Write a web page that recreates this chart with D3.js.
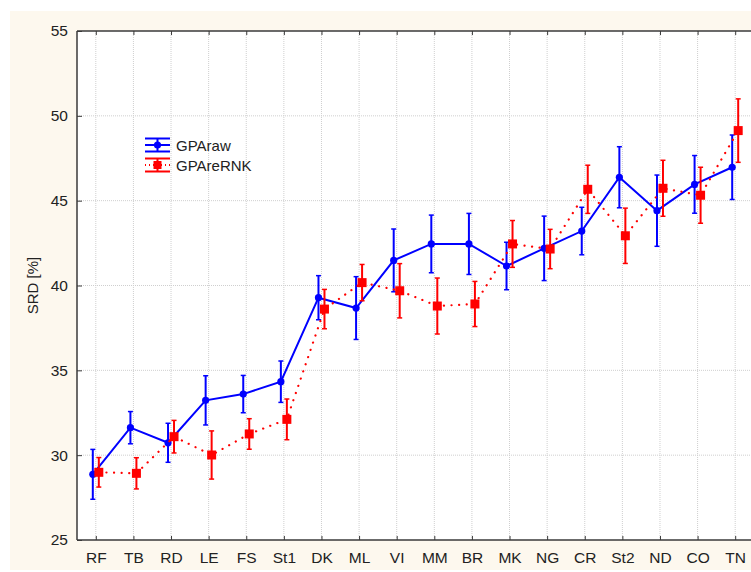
<!DOCTYPE html>
<html>
<head>
<meta charset="utf-8">
<script src="https://cdn.jsdelivr.net/npm/d3@7"></script>
<style>
  html, body { margin: 0; padding: 0; background: #ffffff; }
  svg { display: block; font-family: "Liberation Sans", Arial, sans-serif; }
</style>
</head>
<body>
<svg id="chart" width="751" height="572"></svg>
<script>
// Categories along the x axis
const categories = ["RF","TB","RD","LE","FS","St1","DK","ML","VI","MM","BR","MK","NG","CR","St2","ND","CO","TN"];

// GPAraw: mean SRD [%] and half-width of the error bar
const rawMean = [28.87, 31.62, 30.73, 33.23, 33.60, 34.33, 39.28, 38.67, 41.48, 42.45, 42.45, 41.15, 42.19, 43.21, 46.38, 44.41, 45.96, 46.97];
const rawErr  = [1.47, 0.95, 1.15, 1.45, 1.10, 1.22, 1.30, 1.85, 1.85, 1.70, 1.80, 1.40, 1.90, 1.40, 1.80, 2.10, 1.70, 1.90];

// GPAreRNK: mean SRD [%] and half-width of the error bar
const rnkMean = [28.99, 28.93, 31.09, 30.01, 31.25, 32.11, 38.61, 40.17, 39.69, 38.79, 38.91, 42.45, 42.15, 45.67, 42.93, 45.73, 45.32, 49.13];
const rnkErr  = [0.87, 0.92, 0.96, 1.42, 0.90, 1.20, 1.16, 1.07, 1.60, 1.65, 1.33, 1.38, 1.16, 1.42, 1.63, 1.65, 1.65, 1.87];

const yTicks = [25, 30, 35, 40, 45, 50, 55];
const seriesNames = ["GPAraw", "GPAreRNK"];

const svg = d3.select("#chart");

// Page panel
svg.append("rect").attr("x", 10).attr("y", 11).attr("width", 741).attr("height", 559).attr("fill", "#fdf8ee");

const plot = { left: 77, top: 31, right: 754, bottom: 540 };
svg.append("rect").attr("x", plot.left).attr("y", plot.top)
  .attr("width", plot.right - plot.left).attr("height", plot.bottom - plot.top).attr("fill", "#ffffff");

const x = d3.scalePoint().domain(categories).range([plot.left, plot.right]).padding(0.5);
const y = d3.scaleLinear().domain([25, 55]).range([plot.bottom, plot.top]);

// Grid
const grid = svg.append("g");
grid.selectAll("line.gx").data(categories).join("line")
  .attr("x1", d => x(d)).attr("x2", d => x(d)).attr("y1", plot.top).attr("y2", plot.bottom)
  .attr("stroke", "#cfcfcf").attr("stroke-width", 1).attr("stroke-dasharray", "1,1");
grid.selectAll("line.gy").data(yTicks.slice(1, -1)).join("line")
  .attr("x1", plot.left).attr("x2", plot.right).attr("y1", d => y(d)).attr("y2", d => y(d))
  .attr("stroke", "#cfcfcf").attr("stroke-width", 1).attr("stroke-dasharray", "1,1");

// Axes (ticks point inward)
const axisColor = "#3a3a3a";
const yAxis = svg.append("g").attr("transform", `translate(${plot.left},0)`)
  .call(d3.axisLeft(y).tickValues(yTicks).tickSize(-5).tickPadding(9));
const xAxis = svg.append("g").attr("transform", `translate(0,${plot.bottom})`)
  .call(d3.axisBottom(x).tickSize(-4).tickPadding(12));
const xTop = svg.append("g").attr("transform", `translate(0,${plot.top})`)
  .call(d3.axisBottom(x).tickSize(4).tickFormat(""));
[yAxis, xAxis, xTop].forEach(g => {
  g.select(".domain").attr("stroke", axisColor).attr("stroke-width", 1.5);
  g.selectAll(".tick line").attr("stroke", axisColor);
  g.selectAll("text").attr("fill", "#222").attr("font-size", 15.5)
    .attr("font-family", '"Liberation Sans", Arial, sans-serif');
});
xTop.select(".domain").attr("d", `M${plot.left},0H${plot.right}`);
xAxis.select(".domain").attr("d", `M${plot.left},0H${plot.right}`);
yAxis.select(".domain").attr("d", `M0,${plot.bottom}V${plot.top}`);

// Y axis title
svg.append("text").attr("transform", `translate(38,${(plot.top + plot.bottom) / 2}) rotate(-90)`)
  .attr("text-anchor", "middle").attr("font-size", 15).attr("fill", "#222").text("SRD [%]");

function drawSeries(means, errs, color, dx, dashed, marker) {
  const g = svg.append("g");
  const pts = categories.map((c, i) => ({ c, m: means[i], e: errs[i] }));
  const line = d3.line().x(d => x(d.c) + dx).y(d => y(d.m));
  g.append("path").datum(pts).attr("d", line).attr("fill", "none")
    .attr("stroke", color).attr("stroke-width", dashed ? 2.2 : 2)
    .attr("stroke-dasharray", dashed ? "0.1,7.5" : null)
    .attr("stroke-linecap", dashed ? "round" : "butt");
  const eb = g.selectAll("g.eb").data(pts).join("g");
  eb.append("line").attr("x1", d => x(d.c) + dx).attr("x2", d => x(d.c) + dx)
    .attr("y1", d => y(d.m - d.e)).attr("y2", d => y(d.m + d.e))
    .attr("stroke", color).attr("stroke-width", 2);
  [1, -1].forEach(s => {
    eb.append("line").attr("x1", d => x(d.c) + dx - 2.5).attr("x2", d => x(d.c) + dx + 2.5)
      .attr("y1", d => y(d.m + s * d.e)).attr("y2", d => y(d.m + s * d.e))
      .attr("stroke", color).attr("stroke-width", 1.5);
  });
  if (marker === "circle") {
    g.selectAll("circle").data(pts).join("circle")
      .attr("cx", d => x(d.c) + dx).attr("cy", d => y(d.m)).attr("r", 3.6).attr("fill", color);
  } else {
    g.selectAll("rect.mk").data(pts).join("rect")
      .attr("x", d => x(d.c) + dx - 4.5).attr("y", d => y(d.m) - 4.5)
      .attr("width", 9).attr("height", 9).attr("fill", color);
  }
}

drawSeries(rawMean, rawErr, "#0000ff", -3, false, "circle");
drawSeries(rnkMean, rnkErr, "#ff0000", 3, true, "square");

// Legend
const legend = svg.append("g").attr("transform", "translate(145,145)");
const legendItems = [
  { name: seriesNames[0], color: "#0000ff", dashed: false, marker: "circle" },
  { name: seriesNames[1], color: "#ff0000", dashed: true, marker: "square" }
];
legendItems.forEach((it, i) => {
  const g = legend.append("g").attr("transform", `translate(0,${i * 20})`);
  g.append("line").attr("x1", 0).attr("x2", 25).attr("y1", -6.5).attr("y2", -6.5).attr("stroke", it.color).attr("stroke-width", 2);
  g.append("line").attr("x1", 0).attr("x2", 25).attr("y1", 6.5).attr("y2", 6.5).attr("stroke", it.color).attr("stroke-width", 2);
  g.append("line").attr("x1", 12.5).attr("x2", 12.5).attr("y1", -6.5).attr("y2", 6.5).attr("stroke", it.color).attr("stroke-width", 2);
  g.append("line").attr("x1", 0).attr("x2", 25).attr("y1", 0).attr("y2", 0).attr("stroke", it.color)
    .attr("stroke-width", 2).attr("stroke-dasharray", it.dashed ? "1,3" : null);
  if (it.marker === "circle") {
    g.append("circle").attr("cx", 12.5).attr("cy", 0).attr("r", 3.6).attr("fill", it.color);
  } else {
    g.append("rect").attr("x", 8.5).attr("y", -4).attr("width", 8).attr("height", 8).attr("fill", it.color);
  }
  g.append("text").attr("x", 31).attr("y", 5.5).attr("font-size", 15).attr("fill", "#222").text(it.name);
});
</script>
</body>
</html>
